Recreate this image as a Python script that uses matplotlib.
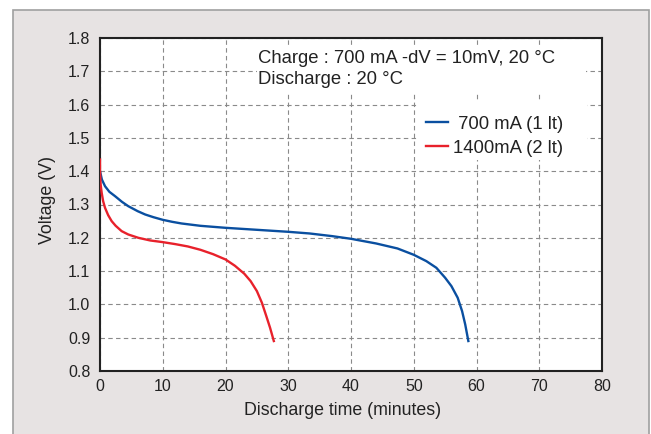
import matplotlib
matplotlib.use("Agg")
import matplotlib.pyplot as plt
from matplotlib.patches import Rectangle

plt.rcParams['font.family'] = ['Liberation Sans', 'DejaVu Sans']

# discharge curves
t_700 = [0, 0.3, 0.8, 1.5, 2.4, 3.5, 4.5, 6, 7.2, 8.5, 10, 11.5, 13, 16, 20, 25,
         30, 33.4, 37, 40, 44, 47.4, 50, 52, 53.6, 55, 56, 57, 57.7, 58.2, 58.7]
v_700 = [1.40, 1.375, 1.355, 1.338, 1.325, 1.308, 1.295, 1.28, 1.27, 1.262,
         1.254, 1.248, 1.243, 1.236, 1.23, 1.224, 1.218, 1.213, 1.205, 1.197,
         1.183, 1.168, 1.149, 1.13, 1.11, 1.08, 1.055, 1.02, 0.98, 0.94, 0.89]

t_1400 = [0, 0, 0.1, 0.27, 0.5, 0.8, 1.3, 1.86, 2.5, 3.45, 4.5, 6.1, 8, 10, 12,
          14, 16, 18, 20, 21.5, 23, 24, 25, 25.8, 26.5, 27.1, 27.7]
v_1400 = [1.435, 1.40, 1.36, 1.335, 1.31, 1.29, 1.268, 1.25, 1.236, 1.22,
          1.21, 1.2, 1.192, 1.187, 1.181, 1.174, 1.164, 1.151, 1.135, 1.116,
          1.092, 1.07, 1.04, 1.005, 0.965, 0.93, 0.89]

x_ticks = [0, 10, 20, 30, 40, 50, 60, 70, 80]
y_ticks = [0.8, 0.9, 1.0, 1.1, 1.2, 1.3, 1.4, 1.5, 1.6, 1.7, 1.8]

W, H = 651, 434
fig = plt.figure(figsize=(W / 100, H / 100), dpi=100)
fig.patch.set_facecolor('white')
# grey panel behind the chart
fig.patches.append(Rectangle((13 / W, -0.01), (649 - 13) / W, (H - 10) / H + 0.01,
                             transform=fig.transFigure, facecolor='#e7e3e3',
                             edgecolor='#a0a0a0', linewidth=1.2, zorder=-1))

ax = fig.add_axes([100 / W, (H - 371) / H, 502 / W, 333 / H])
ax.set_facecolor('white')

ax.plot(t_700, v_700, color='#0a4fa0', lw=1.7, label=' 700 mA (1 lt)', zorder=3)
ax.plot(t_1400, v_1400, color='#e8212b', lw=1.7, label='1400mA (2 lt)', zorder=3)

ax.set_xlim(0, 80)
ax.set_ylim(0.8, 1.8)
ax.set_xticks(x_ticks)
ax.set_yticks(y_ticks)
ax.set_yticklabels([f'{v:.1f}' for v in y_ticks])
ax.tick_params(length=0, labelsize=11.5, colors='#222222')
ax.tick_params(axis='y', pad=7)
ax.tick_params(axis='x', pad=6)
ax.grid(True, color='#8a8a8a', ls=(0, (4, 3)), lw=0.8)

for s in ax.spines.values():
    s.set_color('#222222')
    s.set_linewidth(1.5)

ax.set_xlabel('Discharge time (minutes)', fontsize=12.8, color='#222222')
ax.set_ylabel('Voltage (V)', fontsize=12.8, color='#222222')
ax.xaxis.set_label_coords(0.484, -0.093)
ax.yaxis.set_label_coords(-0.088, 0.513)

# white blocks behind the notes and the legend hide the grid there
ax.add_patch(Rectangle((0.313, 0.835), 0.655, 0.138, transform=ax.transAxes,
                       facecolor='white', edgecolor='none', zorder=2))
ax.add_patch(Rectangle((0.631, 0.634), 0.339, 0.18, transform=ax.transAxes,
                       facecolor='white', edgecolor='none', zorder=2))
ax.text(25.2, 1.739, 'Charge : 700 mA -dV = 10mV, 20 °C', fontsize=13.3,
        color='#222222', va='center', zorder=3)
ax.text(25.2, 1.675, 'Discharge : 20 °C', fontsize=13.3, color='#222222',
        va='center', zorder=3)

leg = ax.legend(loc='upper left', bbox_to_anchor=(0.649, 0.767), frameon=False,
                fontsize=13.3, handlelength=1.2, handletextpad=0.28,
                labelspacing=0.38, borderpad=0, borderaxespad=0)
leg.set_zorder(4)
for txt in leg.get_texts():
    txt.set_color('#222222')

fig.savefig('out.png', dpi=100)
